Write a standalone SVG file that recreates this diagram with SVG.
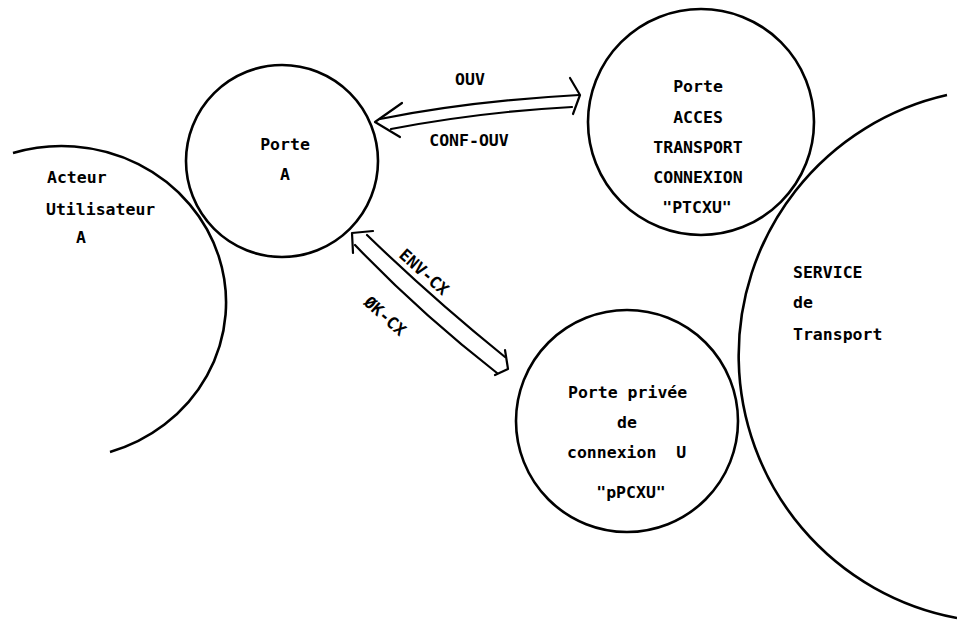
<svg xmlns="http://www.w3.org/2000/svg" width="957" height="620" viewBox="0 0 957 620">
  <style>
    .ring { fill: none; stroke: #000; stroke-width: 2.6; }
    .wire { fill: none; stroke: #000; stroke-width: 2.2; stroke-linecap: round; stroke-linejoin: round; }
    text { font-family: "DejaVu Sans Mono", "Liberation Mono", monospace; font-weight: bold; font-size: 16.5px; fill: #000; white-space: pre; }
    .mid { text-anchor: middle; }
  </style>
  <rect width="957" height="620" fill="#fff"/>

  <!-- Acteur Utilisateur A (partial circle) -->
  <g id="acteur">
    <path class="ring" d="M 13 153 A 164 156 0 1 1 110 452"/>
    <text x="47" y="183">Acteur</text>
    <text x="46" y="215">Utilisateur</text>
    <text x="76" y="243">A</text>
  </g>

  <!-- Porte A -->
  <g id="porte-a">
    <circle class="ring" cx="282" cy="161" r="96"/>
    <text class="mid" x="285" y="150">Porte</text>
    <text class="mid" x="285" y="180">A</text>
  </g>

  <!-- Porte acces transport connexion -->
  <g id="ptcxu">
    <circle class="ring" cx="701" cy="122" r="113"/>
    <text class="mid" x="698" y="92">Porte</text>
    <text class="mid" x="698" y="123">ACCES</text>
    <text class="mid" x="698" y="153">TRANSPORT</text>
    <text class="mid" x="698" y="183">CONNEXION</text>
    <text class="mid" x="697" y="213">"PTCXU"</text>
  </g>

  <!-- Porte privee de connexion U -->
  <g id="ppcxu">
    <circle class="ring" cx="627" cy="421" r="111"/>
    <text x="568" y="398">Porte privée</text>
    <text class="mid" x="627" y="428">de</text>
    <text x="567" y="458">connexion  U</text>
    <text class="mid" x="631" y="498">"pPCXU"</text>
  </g>

  <!-- Service de Transport (partial circle) -->
  <g id="service">
    <path class="ring" d="M 947 95 A 267 267 0 0 0 957 618"/>
    <text x="793" y="278">SERVICE</text>
    <text x="793" y="308">de</text>
    <text x="793" y="340">Transport</text>
  </g>

  <!-- double-headed hollow arrows -->
  <g id="connectors">
    <g id="ouv">
      <path class="wire" d="M 380 119 Q 470 101 579 95"/>
      <path class="wire" d="M 391 129 Q 480 112 572 107"/>
      <path class="wire" d="M 402 103 L 375 122 L 400 137"/>
      <path class="wire" d="M 570 78 L 580 95 L 573 114"/>
      <text class="mid" x="470" y="85">OUV</text>
      <text class="mid" x="469" y="146">CONF-OUV</text>
    </g>
    <g id="env">
      <path class="wire" d="M 367 235 Q 432 298 505 357"/>
      <path class="wire" d="M 355 245 Q 420 313 497 373"/>
      <path class="wire" d="M 373 231 L 352 233 L 353 253"/>
      <path class="wire" d="M 505 350 L 508 369 L 495 375"/>
      <text class="mid" transform="translate(424 272) rotate(42)" dy="0.35em">ENV-CX</text>
      <text class="mid" transform="translate(385 316) rotate(42)" dy="0.35em">ØK-CX</text>
    </g>
  </g>
</svg>
